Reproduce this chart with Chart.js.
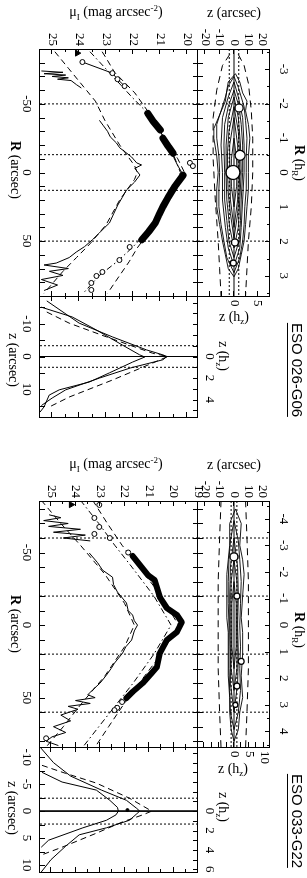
<!DOCTYPE html>
<html>
<head>
<meta charset="utf-8">
<script src="https://cdn.jsdelivr.net/npm/chart.js@4.4.1/dist/chart.umd.min.js"></script>
<style>
  html, body { margin: 0; padding: 0; background: #fff; }
  body { width: 307px; height: 878px; position: relative; overflow: hidden;
         font-family: "Liberation Serif", "DejaVu Serif", serif; color: #000; }
  #fig { position: absolute; left: 0; top: 0; width: 878px; height: 307px;
         transform-origin: 0 0; transform: translate(307px, 0) rotate(90deg); }
  #fig canvas { position: absolute; }
  .t { position: absolute; white-space: nowrap; font-size: 14px; line-height: 1;
       transform: translate(-50%, -50%); }
  .v { writing-mode: vertical-rl; }
  .name { font-family: "Liberation Sans", Arial, sans-serif; font-size: 15px;
          border-left: 1px solid #000; padding-left: 2px; }
  sub, sup { font-size: 9px; }
</style>
</head>
<body>
<div id="fig"></div>

<!-- axis titles (screen orientation) -->
<div class="t" style="left:116px;top:13px">μ<sub>I</sub> (mag arcsec<sup>-2</sup>)</div>
<div class="t" style="left:234px;top:13px">z (arcsec)</div>
<div class="t v" style="left:15px;top:170px"><b>R</b> (arcsec)</div>
<div class="t v" style="left:298px;top:163px"><b>R</b> (h<sub>R</sub>)</div>
<div class="t" style="left:234px;top:318px">z (h<sub>z</sub>)</div>
<div class="t v" style="left:222px;top:356px">z (h<sub>z</sub>)</div>
<div class="t v" style="left:13px;top:360px">z (arcsec)</div>
<div class="t v name" style="left:296px;top:370px">ESO 026-G06</div>

<div class="t" style="left:116px;top:465px">μ<sub>I</sub> (mag arcsec<sup>-2</sup>)</div>
<div class="t" style="left:234px;top:465px">z (arcsec)</div>
<div class="t v" style="left:15px;top:624px"><b>R</b> (arcsec)</div>
<div class="t v" style="left:298px;top:630px"><b>R</b> (h<sub>R</sub>)</div>
<div class="t" style="left:233px;top:770px">z (h<sub>z</sub>)</div>
<div class="t v" style="left:222px;top:807px">z (h<sub>z</sub>)</div>
<div class="t v" style="left:12px;top:808px">z (arcsec)</div>
<div class="t v name" style="left:296px;top:821px">ESO 033-G22</div>

<script>
// ===== ESO 026-G06 =====
// tick labels / tick marks
const g1RLabels = [-50, 0, 50];
const g1RTicks = [-80, -70, -60, -50, -40, -30, -20, -10, 0, 10, 20, 30, 40, 50, 60, 70, 80];
const g1hRLabels = [-3, -2, -1, 0, 1, 2, 3];
const g1hRTicks = [-3.5, -3, -2.5, -2, -1.5, -1, -0.5, 0, 0.5, 1, 1.5, 2, 2.5, 3, 3.5];
const g1MuLabels = [20, 21, 22, 23, 24, 25];
const g1MuTicks = [20, 20.5, 21, 21.5, 22, 22.5, 23, 23.5, 24, 24.5, 25];
const g1ZLabels = [-20, -10, 0, 10, 20];
const g1hZLabels = [0, 5];
const g1hZTicks = [-7.5, -5, -2.5, 0, 2.5, 5, 7.5];
const g1ZvLabels = [-10, 0, 10];
const g1ZvTicks = [-15, -10, -5, 0, 5, 10, 15];
const g1hZvLabels = [0, 2, 4];
const g1hZvTicks = [-5, -4, -3, -2, -1, 0, 1, 2, 3, 4, 5];
// reference lines
const g1RMarks = [-50, -13, 13, 50];
const g1ZMarks = [-3.3, 3.3];

// contour map (R, z in arcsec)
const g1C1R = [-72, -66, -58, -52, -45, -35, -25, -12, 0, 12, 25, 38, 50, 60, 70, 76, 70, 60, 50, 38, 25, 12, 0, -12, -25, -32, -42, -52, -60, -66, -72];
const g1C1Z = [1, 4, 6, 9, 8, 10, 11, 10, 10, 10, 9, 8, 7, 5, 3, 0, -4, -6, -8, -10, -12, -12, -11, -12, -14, -14, -10, -6, -5, -4, 1];
const g1C2R = [-70, -62, -55, -48, -38, -25, -12, 0, 12, 25, 38, 50, 62, 73, 62, 50, 38, 25, 12, 0, -12, -25, -35, -45, -55, -63, -70];
const g1C2Z = [0, 3, 5, 7, 8, 9, 8.5, 8.5, 8.5, 7.5, 7, 6, 4, 0, -5, -7, -9, -10.5, -10.5, -10, -10.5, -12, -12, -9, -6, -4, 0];
const g1C3R = [-66, -55, -40, -20, 0, 20, 40, 55, 68, 55, 40, 20, 0, -20, -40, -55, -66];
const g1C3Z = [0, 3, 6, 7, 7, 6, 5, 4, 0, -4, -6, -8, -8, -9, -8, -4, 0];
const g1C4R = [-60, -48, -35, -20, 0, 20, 35, 50, 62, 50, 35, 20, 0, -20, -35, -48, -60];
const g1C4Z = [0, 3.5, 5, 6, 6, 5, 4.5, 3.5, 0, -3.5, -5, -6.5, -6.5, -7, -6.5, -4, 0];
const g1C5R = [-55, -40, -20, 0, 20, 40, 55, 40, 20, 0, -20, -40, -55];
const g1C5Z = [0, 3, 4.5, 5, 4, 3, 0, -3, -5, -5.5, -5.5, -4, 0];
const g1C6R = [-48, -30, -15, 0, 15, 30, 48, 30, 15, 0, -15, -30, -48];
const g1C6Z = [0, 3, 3.8, 4, 3.5, 2.5, 0, -2.5, -4, -4.5, -4.5, -3.5, 0];
const g1C7R = [-40, -20, 0, 20, 40, 20, 0, -20, -40];
const g1C7Z = [0, 2.5, 3, 2.5, 0, -2.5, -3, -3, 0];
const g1C8R = [-25, -10, 0, 10, 25, 10, 0, -10, -25];
const g1C8Z = [0, 1.8, 2, 1.8, 0, -1.8, -2, -1.8, 0];
const g1DashUpR = [-86, -78, -65, -45, -25, 0, 25, 50, 70, 90];
const g1DashUpZ = [3, 7, 10, 12, 13, 13, 12, 10, 9, 8];
const g1DashLoR = [-86, -78, -60, -40, -10, 20, 50, 70, 90];
const g1DashLoZ = [-3, -8, -12, -14.5, -14.5, -13, -11, -10, -9];
const g1StarR = [0, -12.5, -47, 51, 66];
const g1StarZ = [-0.7, 4.2, 3.5, 0.7, -0.5];
const g1StarSize = [7, 5, 4, 3.5, 3];

// major-axis profile (R arcsec, mu)
const g1BandAR = [-43, -37, -31];
const g1BandAMu = [21.46, 21.25, 21.0];
const g1BandBR = [-25, -19, -14];
const g1BandBMu = [20.9, 20.7, 20.52];
const g1BandCR = [2, 10, 18, 25, 31, 37, 43, 49];
const g1BandCMu = [20.15, 20.45, 20.7, 20.9, 21.05, 21.19, 21.42, 21.68];
const g1CoreR = [-14, -11, -5, 0, 2];
const g1CoreMu = [20.52, 20.5, 20.35, 20.2, 20.15];
const g1OpenR = [-80.5, -72.4, -68, -63, -7, -4.7, 54.3, 63.8, 72.5, 75.4, 80.5, 85.6];
const g1OpenMu = [23.88, 22.77, 22.58, 22.32, 19.9, 19.79, 22.13, 22.51, 23.14, 23.36, 23.55, 23.55];
const g1LimR = [-87];
const g1LimMu = [24.07];
// off-plane cut
const g1CutAR = [-74, -73, -72, -71, -70, -69, -68, -67, -64, -61.6];
const g1CutAMu = [25.4, 24.6, 25.3, 24.5, 25.0, 24.4, 24.8, 24.3, 24.1, 23.92];
const g1CutBR = [-38, -34, -30, -26, -21.5, -18, -15, -11.3, -7, -5.5, -3, 1.8, 7, 12.8, 18, 23.7, 30, 36.8, 40, 44, 49, 54, 58, 62, 66, 67.4, 70, 72, 75, 78, 82, 86];
const g1CutBMu = [23.25, 23.1, 22.95, 22.85, 22.62, 22.5, 22.3, 22.06, 21.87, 21.69, 21.94, 21.75, 21.95, 22.25, 22.4, 22.57, 22.72, 22.88, 23.05, 23.25, 23.51, 23.8, 24.11, 24.37, 24.85, 25.3, 24.4, 25.1, 24.6, 25.4, 24.8, 25.3];
// models
const g1ModAR = [-88, -83, -73, -58, -43, -25, -10, 0, 10, 25, 43, 55, 65, 75, 88];
const g1ModAMu = [23.15, 22.99, 22.69, 21.94, 21.4, 20.85, 20.35, 20.1, 20.35, 20.85, 21.4, 21.85, 22.15, 22.5, 22.95];
const g1ModBR = [-88, -70, -55, -45, -30, -15, 0, 15, 30, 45, 55, 65, 75, 88];
const g1ModBMu = [23.6, 22.75, 22.05, 21.55, 21.0, 20.55, 20.25, 20.55, 21.0, 21.55, 22.05, 22.6, 23.25, 23.85];
const g1ModZR = [-88, -76, -52, -38, -20, -5, 0, 5, 20, 38, 52, 62, 72, 88];
const g1ModZMu = [24.9, 24.4, 23.4, 23.05, 22.5, 21.95, 21.85, 21.95, 22.5, 23.0, 23.6, 24.1, 24.6, 25.3];

// vertical profiles (z arcsec, mu)
const g1VaZ = [-15.1, -12.1, -8.1, -3.5, -0.5, 0.15, 1.7, 5, 7.8, 10.2, 11.8, 15.4, 17];
const g1VaMu = [25.41, 24.26, 23.36, 22.4, 21.76, 21.57, 22.02, 22.88, 23.62, 24.74, 25.11, 25.3, 25.45];
const g1VbZ = [-17, -10.2, -6, -2, -0.5, 0, 1, 3.5, 6.6, 10.2, 12.7, 15];
const g1VbMu = [25.2, 24.0, 22.77, 21.5, 20.9, 20.75, 20.9, 22.1, 23.25, 24.5, 25.0, 25.4];
const g1VdZ = [-13.6, -10.2, -6, -1, 0, 2, 7.2, 12.4, 15.4];
const g1VdMu = [25.2, 24.37, 22.99, 21.28, 20.72, 21.28, 22.77, 24.37, 25.1];

// ===== ESO 033-G22 =====
const g2RLabels = [-50, 0, 50];
const g2RTicks = [-80, -70, -60, -50, -40, -30, -20, -10, 0, 10, 20, 30, 40, 50, 60, 70, 80];
const g2hRLabels = [-4, -3, -2, -1, 0, 1, 2, 3, 4];
const g2hRTicks = [-4.5, -4, -3.5, -3, -2.5, -2, -1.5, -1, -0.5, 0, 0.5, 1, 1.5, 2, 2.5, 3, 3.5, 4, 4.5];
const g2MuLabels = [19, 20, 21, 22, 23, 24, 25];
const g2MuTicks = [19.5, 20, 20.5, 21, 21.5, 22, 22.5, 23, 23.5, 24, 24.5, 25];
const g2ZLabels = [-20, -10, 0, 10, 20];
const g2hZLabels = [0, 5, 10];
const g2hZTicks = [-10, -7.5, -5, -2.5, 0, 2.5, 5, 7.5, 10];
const g2ZvLabels = [-10, -5, 0, 5, 10];
const g2ZvTicks = [-10, -7.5, -5, -2.5, 0, 2.5, 5, 7.5, 10];
const g2hZvLabels = [0, 2, 4, 6];
const g2hZvTicks = [-6, -5, -4, -3, -2, -1, 0, 1, 2, 3, 4, 5, 6];
const g2RMarks = [-60, -20, 20, 60];
const g2ZMarks = [-2, 2];
const g2ZvMarks = [-2.4, 2.4];

const g2C1R = [-80, -70, -55, -45, -35, -20, -5, 5, 20, 35, 50, 60, 72, 80, 72, 60, 50, 35, 20, 5, -5, -20, -35, -45, -55, -70, -80];
const g2C1Z = [1, 5, 4, 6, 7, 6, 5, 6, 6, 5, 6, 4, 3, 0, -2, -3, -3, -4, -4, -4, -5, -5, -5, -4, -3, -3, 1];
const g2C2R = [-72, -58, -45, -30, -15, 0, 15, 30, 45, 60, 72, 60, 45, 30, 15, 0, -15, -30, -45, -58, -72];
const g2C2Z = [0, 3, 4, 5, 4.5, 4, 4.5, 4, 4.5, 3, 0, -2.5, -3, -3.5, -3.5, -3.5, -4, -4, -3.5, -2.5, 0];
const g2C3R = [-60, -40, -20, 0, 20, 40, 60, 40, 20, 0, -20, -40, -60];
const g2C3Z = [0, 2.5, 3, 2.5, 3, 2.5, 0, -2.5, -2.5, -3, -3, -2.5, 0];
const g2C4R = [-45, -30, -15, 0, 15, 30, 45, 30, 15, 0, -15, -30, -45];
const g2C4Z = [0, 2, 2.2, 2, 2.2, 2, 0, -2, -2, -2.2, -2.2, -2, 0];
const g2C5R = [-30, -15, 0, 15, 30, 15, 0, -15, -30];
const g2C5Z = [0, 1.5, 1.5, 1.5, 0, -1.5, -1.5, -1.5, 0];
const g2DashUpR = [-86, -60, -30, 0, 30, 60, 85];
const g2DashUpZ = [8, 9, 10, 10, 10, 9, 8];
const g2DashLoR = [-86, -60, -30, 0, 30, 60, 85];
const g2DashLoZ = [-9, -10, -11, -11, -11, -10, -9];
const g2StarR = [-47, -20, 25, 42, 55];
const g2StarZ = [0, 2, 5, 2, 1];
const g2StarSize = [4, 3, 3, 3, 2.5];

const g2BandR = [-47.6, -34.5, -31, -26, -19.3, -11.7, -6.9, -2, 4.8, 10.3, 19.3, 29, 33, 40, 46, 50.3];
const g2BandMu = [21.67, 21.05, 20.77, 20.68, 20.56, 20.27, 19.86, 19.66, 19.86, 20.27, 20.56, 20.68, 20.89, 21.26, 21.67, 21.92];
const g2OpenR = [-82.8, -73.8, -67.6, -62.8, -60, -50, 53, 57, 58.6, 78];
const g2OpenMu = [23.03, 23.23, 23.03, 23.23, 22.6, 21.85, 22.1, 22.3, 22.41, 25.2];
const g2LimR = [-83];
const g2LimMu = [24.18];
const g2CutAR = [-76, -74, -72, -70, -68, -66, -64, -62, -60, -58];
const g2CutAMu = [25.08, 24.6, 25.3, 24.3, 25.1, 23.8, 24.9, 23.6, 24.5, 23.4];
const g2CutBR = [-49.7, -43, -37.9, -33, -28, -22.8, -15.2, -10, -6.9, -3, 0, 4, 10.3, 15, 19.3, 26.2, 30, 34.5, 40, 44.8, 48, 50, 52, 54, 56, 58, 62, 66, 70, 74, 77, 80, 83];
const g2CutBMu = [23.44, 23.1, 22.9, 22.49, 22.45, 22.29, 21.92, 21.85, 21.67, 21.6, 21.47, 21.6, 21.71, 21.95, 22.08, 22.41, 22.55, 22.74, 23.0, 23.31, 23.5, 23.2, 24.0, 23.4, 24.3, 23.9, 24.6, 24.2, 24.9, 24.4, 24.96, 25.2, 24.7];
const g2ModAR = [-86, -70, -55, -40, -20, 0, 20, 40, 55, 70, 84];
const g2ModAMu = [23.3, 22.7, 22.1, 21.4, 20.5, 19.8, 20.5, 21.4, 22.05, 22.65, 23.2];
const g2ModBR = [-86, -70, -55, -40, -20, 0, 20, 40, 55, 70, 84];
const g2ModBMu = [23.8, 23.05, 22.4, 21.7, 20.8, 20.1, 20.8, 21.65, 22.35, 23.05, 23.7];
const g2ModZR = [-86, -70, -55, -35, -15, 0, 15, 35, 55, 70, 84];
const g2ModZMu = [25.4, 24.6, 23.8, 22.8, 22.0, 21.6, 22.0, 22.8, 23.8, 24.5, 25.2];

const g2VaZ = [-7.2, -5.4, -3.9, -2, -0.7, 0, 0.7, 1.7, 3.1, 5.4, 6.7];
const g2VaMu = [25.37, 24.55, 23.15, 22.6, 22.29, 22.25, 22.35, 22.74, 23.7, 25.1, 25.4];
const g2VbZ = [-11.9, -9, -6.5, -3.9, -2, -0.5, 0, 0.5, 1.7, 3.1, 4.4, 6.5, 9, 11.3];
const g2VbMu = [25.45, 24.9, 24.2, 22.94, 21.92, 21.5, 21.38, 21.5, 21.8, 22.74, 23.85, 24.4, 25.0, 25.4];
const g2VdZ = [-8.5, -7, -5.2, -2.4, 0, 0.7, 2, 4.1, 6.7, 8.1];
const g2VdMu = [25.37, 24.4, 23.15, 21.8, 20.89, 21.26, 22.08, 23.15, 24.55, 25.37];
const g2DotZ = [-0.2];
const g2DotMu = [21.88];

// ---------- helpers ----------
const M = 40;
const FONT = { family: 'Liberation Serif', size: 13 };
Chart.defaults.font.family = 'Liberation Serif';

function xy(xs, ys) { return xs.map((x, i) => ({ x: x, y: ys[i] })); }
function line(xs, ys, o) {
    return Object.assign({ data: xy(xs, ys), showLine: true, borderColor: '#000', borderWidth: 1,
        pointRadius: 0, tension: 0 }, o || {});
}
function dots(xs, ys, o) {
    return Object.assign({ data: xy(xs, ys), showLine: false, pointRadius: 2.5, pointBorderWidth: 1,
        pointBorderColor: '#000', pointBackgroundColor: '#fff' }, o || {});
}
function vlines(vals, range, dash) {
    return vals.map(v => line([v, v], range, { borderDash: dash }));
}
function hlines(vals, range, dash) {
    return vals.map(v => line(range, [v, v], { borderDash: dash }));
}
const DASH = [6, 4], DOT = [2, 2], DASHDOT = [6, 3, 1.5, 3];

function ax(pos, range, labels, pad, reverse) {
    const horiz = pos === 'top' || pos === 'bottom';
    return {
        type: 'linear', position: pos, min: range[0], max: range[1], reverse: !!reverse,
        grid: { display: false, drawTicks: false }, border: { display: false },
        ticks: { display: labels.length > 0, padding: pad, autoSkip: false, maxRotation: 0, minRotation: 0,
                 color: '#000', font: FONT, callback: v => String(v) },
        afterBuildTicks: s => { s.ticks = labels.map(v => ({ value: v })); },
        afterFit: s => {
            if (horiz) s.height = M; else s.width = M;
            s.paddingLeft = s.paddingRight = s.paddingTop = s.paddingBottom = 0;
        }
    };
}

// frame with inward tick marks
const framePlugin = {
    id: 'frame',
    afterDraw(chart, args, opts) {
        const { ctx, chartArea: a, scales } = chart;
        ctx.save();
        ctx.strokeStyle = '#000';
        ctx.lineWidth = 1;
        ctx.strokeRect(Math.round(a.left) + 0.5, Math.round(a.top) + 0.5, Math.round(a.width), Math.round(a.height));
        ctx.beginPath();
        (opts.marks || []).forEach(m => {
            const s = scales[m.axis];
            [[m.major || [], 5], [m.minor || [], 3]].forEach(([vals, len]) => vals.forEach(v => {
                const p = Math.round(s.getPixelForValue(v)) + 0.5;
                if (m.side === 'bottom') { ctx.moveTo(p, a.bottom); ctx.lineTo(p, a.bottom - len); }
                if (m.side === 'top') { ctx.moveTo(p, a.top); ctx.lineTo(p, a.top + len); }
                if (m.side === 'left') { ctx.moveTo(a.left, p); ctx.lineTo(a.left + len, p); }
                if (m.side === 'right') { ctx.moveTo(a.right, p); ctx.lineTo(a.right - len, p); }
            }));
        });
        ctx.stroke();
        ctx.restore();
    }
};

function panel(rect, scales, datasets, marks) {
    const c = document.createElement('canvas');
    c.width = rect.w + 2 * M; c.height = rect.h + 2 * M;
    c.style.width = c.width + 'px'; c.style.height = c.height + 'px';
    c.style.left = (rect.x - M) + 'px'; c.style.top = (rect.y - M) + 'px';
    document.getElementById('fig').appendChild(c);
    return new Chart(c, {
        type: 'scatter',
        data: { datasets: datasets },
        options: {
            responsive: false, animation: false, events: [],
            layout: { padding: 0 },
            plugins: { legend: { display: false }, tooltip: { enabled: false }, frame: { marks: marks } },
            scales: scales
        },
        plugins: [framePlugin]
    });
}
function halves(arr) { return arr.filter(v => v % 1 !== 0); }
function wholes(arr) { return arr.filter(v => v % 1 === 0); }

// ---------- build one galaxy ----------
function galaxy(g) {
    const x0 = g.x;
    const Rr = g.R, Zr = g.Z, Mr = g.Mu, Vr = g.Zv;
    const hRr = [Rr[0] / g.hR, Rr[1] / g.hR];
    const hZr = [Zr[0] / g.hZ, Zr[1] / g.hZ];
    const hZvr = [Vr[0] / g.hZv, Vr[1] / g.hZv];

    // contour map
    panel({ x: x0, y: 37, w: g.w, h: 72 }, {
        x: ax('bottom', Rr, [], 0), x2: ax('top', hRr, g.hRLabels, 6),
        y: ax('left', Zr, g.ZLabels, 3), y2: ax('right', hZr, g.hZLabels, 4)
    }, [
        dots(g.starR, g.starZ, { pointRadius: g.starSize, pointBorderWidth: 1.3 }),
        ...g.contours.map(c => line(c[0], c[1], { borderWidth: 0.9 })),
        line(g.dashUp[0], g.dashUp[1], { borderDash: [7, 5] }),
        line(g.dashLo[0], g.dashLo[1], { borderDash: [7, 5] }),
        line(Rr, [0, 0]),
        ...hlines(g.ZMarks, Rr, DOT),
        ...vlines(g.RMarks, Zr, DOT)
    ], [
        { axis: 'x', side: 'bottom', major: g.RTicks },
        { axis: 'x2', side: 'top', major: wholes(g.hRTicks), minor: halves(g.hRTicks) },
        { axis: 'y', side: 'left', major: g.ZLabels },
        { axis: 'y2', side: 'right', major: g.hZTicks }
    ]);

    // major-axis profile
    panel({ x: x0, y: 109, w: g.w, h: 158 }, {
        x: ax('bottom', Rr, g.RLabels, 6), x2: ax('top', Rr, [], 0),
        y: ax('left', Mr, g.MuLabels, 3, true), y2: ax('right', Mr, [], 0, true)
    }, [
        dots(g.openR, g.openMu),
        dots(g.limR, g.limMu, { pointStyle: 'triangle', pointRadius: 3.5, pointBackgroundColor: '#000' }),
        ...g.bands.map(b => line(b[0], b[1], { borderWidth: g.bandW, borderCapStyle: 'round', borderJoinStyle: 'round' })),
        ...g.thin.map(b => line(b[0], b[1])),
        ...g.cuts.map(b => line(b[0], b[1], { borderWidth: 1 })),
        line(g.modA[0], g.modA[1], { borderDash: DASH }),
        line(g.modB[0], g.modB[1], { borderDash: DASHDOT }),
        line(g.modZ[0], g.modZ[1], { borderDash: DASH }),
        ...vlines(g.RMarks, Mr, DOT)
    ], [
        { axis: 'x', side: 'bottom', major: g.RTicks },
        { axis: 'x', side: 'top', major: g.RTicks },
        { axis: 'y', side: 'left', major: wholes(g.MuTicks), minor: halves(g.MuTicks) },
        { axis: 'y', side: 'right', major: wholes(g.MuTicks), minor: halves(g.MuTicks) }
    ]);

    // vertical profile
    panel({ x: x0 + g.w, y: 109, w: g.vw, h: 158 }, {
        x: ax('bottom', Vr, g.ZvLabels, 6), x2: ax('top', hZvr, g.hZvLabels, 4),
        y: ax('left', Mr, [], 0, true), y2: ax('right', Mr, [], 0, true)
    }, [
        ...g.extraDots.map(d => dots(d[0], d[1], { pointRadius: 1.5, pointBackgroundColor: '#000' })),
        line(g.va[0], g.va[1]),
        line(g.vb[0], g.vb[1]),
        line(g.vd[0], g.vd[1], { borderDash: DASH }),
        line([0, 0], Mr),
        ...vlines(g.ZvMarks, Mr, DOT)
    ], [
        { axis: 'x', side: 'bottom', major: g.ZvTicks },
        { axis: 'x2', side: 'top', major: g.hZvTicks },
        { axis: 'y', side: 'left', major: wholes(g.MuTicks), minor: halves(g.MuTicks) },
        { axis: 'y', side: 'right', major: wholes(g.MuTicks), minor: halves(g.MuTicks) }
    ]);
}

galaxy({
    x: 49, w: 247, vw: 121,
    R: [-90, 90], Z: [-25, 25], Mu: [19.6, 25.45], Zv: [-18.5, 18.5],
    hR: 25.1, hZ: 3.3, hZv: 3.3,
    RLabels: g1RLabels, RTicks: g1RTicks, hRLabels: g1hRLabels, hRTicks: g1hRTicks,
    MuLabels: g1MuLabels, MuTicks: g1MuTicks, ZLabels: g1ZLabels, hZLabels: g1hZLabels, hZTicks: g1hZTicks,
    ZvLabels: g1ZvLabels, ZvTicks: g1ZvTicks, hZvLabels: g1hZvLabels, hZvTicks: g1hZvTicks,
    RMarks: g1RMarks, ZMarks: g1ZMarks, ZvMarks: g1ZMarks,
    contours: [[g1C1R, g1C1Z], [g1C2R, g1C2Z], [g1C3R, g1C3Z], [g1C4R, g1C4Z],
               [g1C5R, g1C5Z], [g1C6R, g1C6Z], [g1C7R, g1C7Z], [g1C8R, g1C8Z]],
    dashUp: [g1DashUpR, g1DashUpZ], dashLo: [g1DashLoR, g1DashLoZ],
    starR: g1StarR, starZ: g1StarZ, starSize: g1StarSize,
    openR: g1OpenR, openMu: g1OpenMu, limR: g1LimR, limMu: g1LimMu,
    bands: [[g1BandAR, g1BandAMu], [g1BandBR, g1BandBMu], [g1BandCR, g1BandCMu]], bandW: 7,
    thin: [[g1CoreR, g1CoreMu], [g1OpenR.slice(0, 4), g1OpenMu.slice(0, 4)]],
    cuts: [[g1CutAR, g1CutAMu], [g1CutBR, g1CutBMu]],
    modA: [g1ModAR, g1ModAMu], modB: [g1ModBR, g1ModBMu], modZ: [g1ModZR, g1ModZMu],
    va: [g1VaZ, g1VaMu], vb: [g1VbZ, g1VbMu], vd: [g1VdZ, g1VdMu], extraDots: []
});

galaxy({
    x: 501, w: 246, vw: 125,
    R: [-85.5, 84], Z: [-25, 25], Mu: [19, 25.45], Zv: [-11.9, 11.3],
    hR: 18.3, hZ: 2.08, hZv: 1.8,
    RLabels: g2RLabels, RTicks: g2RTicks, hRLabels: g2hRLabels, hRTicks: g2hRTicks,
    MuLabels: g2MuLabels, MuTicks: g2MuTicks, ZLabels: g2ZLabels, hZLabels: g2hZLabels, hZTicks: g2hZTicks,
    ZvLabels: g2ZvLabels, ZvTicks: g2ZvTicks, hZvLabels: g2hZvLabels, hZvTicks: g2hZvTicks,
    RMarks: g2RMarks, ZMarks: g2ZMarks, ZvMarks: g2ZvMarks,
    contours: [[g2C1R, g2C1Z], [g2C2R, g2C2Z], [g2C3R, g2C3Z], [g2C4R, g2C4Z], [g2C5R, g2C5Z]],
    dashUp: [g2DashUpR, g2DashUpZ], dashLo: [g2DashLoR, g2DashLoZ],
    starR: g2StarR, starZ: g2StarZ, starSize: g2StarSize,
    openR: g2OpenR, openMu: g2OpenMu, limR: g2LimR, limMu: g2LimMu,
    bands: [[g2BandR, g2BandMu]], bandW: 6,
    thin: [],
    cuts: [[g2CutAR, g2CutAMu], [g2CutBR, g2CutBMu]],
    modA: [g2ModAR, g2ModAMu], modB: [g2ModBR, g2ModBMu], modZ: [g2ModZR, g2ModZMu],
    va: [g2VaZ, g2VaMu], vb: [g2VbZ, g2VbMu], vd: [g2VdZ, g2VdMu], extraDots: [[g2DotZ, g2DotMu]]
});
</script>
</body>
</html>
